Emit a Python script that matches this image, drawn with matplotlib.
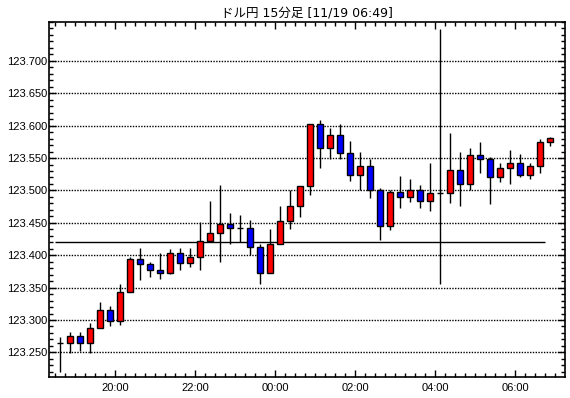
import matplotlib
matplotlib.use('Agg')
import matplotlib.pyplot as plt
from matplotlib.ticker import MultipleLocator, FixedLocator

plt.rcParams['font.family'] = ['Liberation Sans', 'Noto Sans CJK JP', 'DejaVu Sans']

# 15 minute bars, first bar opens at 18:30
first_bar = '18:30'
opens = [123.264, 123.265, 123.275, 123.264, 123.287, 123.315, 123.298, 123.343, 123.394, 123.386,
         123.377, 123.372, 123.403, 123.388, 123.397, 123.422, 123.434, 123.448, 123.442, 123.442,
         123.413, 123.372, 123.417, 123.453, 123.476, 123.507, 123.603, 123.565, 123.585, 123.558,
         123.524, 123.538, 123.501, 123.445, 123.498, 123.490, 123.501, 123.484, 123.496, 123.496,
         123.531, 123.510, 123.555, 123.548, 123.521, 123.534, 123.543, 123.524, 123.538, 123.575]
closes = [123.264, 123.275, 123.264, 123.287, 123.315, 123.298, 123.343, 123.394, 123.386, 123.377,
          123.372, 123.403, 123.388, 123.397, 123.422, 123.434, 123.448, 123.442, 123.442, 123.413,
          123.372, 123.417, 123.453, 123.476, 123.507, 123.602, 123.565, 123.585, 123.558, 123.524,
          123.538, 123.501, 123.445, 123.498, 123.490, 123.501, 123.484, 123.496, 123.496, 123.531,
          123.510, 123.555, 123.548, 123.521, 123.534, 123.543, 123.524, 123.538, 123.575, 123.581]
highs = [123.274, 123.281, 123.281, 123.295, 123.328, 123.321, 123.356, 123.398, 123.411, 123.389,
         123.403, 123.410, 123.411, 123.411, 123.451, 123.484, 123.508, 123.465, 123.462, 123.455,
         123.417, 123.441, 123.476, 123.500, 123.507, 123.602, 123.608, 123.596, 123.602, 123.576,
         123.560, 123.549, 123.504, 123.501, 123.523, 123.518, 123.509, 123.543, 123.749, 123.589,
         123.560, 123.566, 123.574, 123.551, 123.543, 123.563, 123.557, 123.543, 123.579, 123.583]
lows = [123.220, 123.249, 123.252, 123.249, 123.287, 123.290, 123.293, 123.343, 123.361, 123.366,
        123.364, 123.371, 123.377, 123.382, 123.377, 123.422, 123.389, 123.417, 123.420, 123.400,
        123.355, 123.372, 123.417, 123.441, 123.459, 123.493, 123.535, 123.549, 123.548, 123.515,
        123.500, 123.489, 123.424, 123.439, 123.473, 123.482, 123.473, 123.469, 123.356, 123.481,
        123.476, 123.500, 123.527, 123.479, 123.513, 123.510, 123.521, 123.517, 123.527, 123.568]

ref_level = 123.42
tick_labels = ['20:00', '22:00', '00:00', '02:00', '04:00', '06:00']
title = 'ドル円 15分足 [11/19 06:49]'


def bars_since_start(hhmm):
    h0, m0 = map(int, first_bar.split(':'))
    h, m = map(int, hhmm.split(':'))
    minutes = (h * 60 + m) - (h0 * 60 + m0)
    if minutes < 0:
        minutes += 24 * 60
    return minutes / 15


fig = plt.figure(figsize=(5.7, 3.98), dpi=100)
ax = fig.add_axes([49 / 570, 1 - 377 / 398, 516 / 570, 355 / 398])

n = len(opens)
xs = [i + 0.5 for i in range(n)]

# wicks
ax.vlines(xs, lows, highs, color='black', linewidth=1.0, zorder=3)

# bodies (red up, blue down, black doji)
body_colors = []
for o, c in zip(opens, closes):
    if c > o:
        body_colors.append('#ff0000')
    elif c < o:
        body_colors.append('#0000ff')
    else:
        body_colors.append('black')
bottoms = [min(o, c) for o, c in zip(opens, closes)]
heights = [abs(c - o) for o, c in zip(opens, closes)]
ax.bar(xs, heights, width=0.6, bottom=bottoms, color=body_colors,
       edgecolor='black', linewidth=1.0, zorder=4)

# reference level
ax.hlines(ref_level, 0, n - 1, color='black', linewidth=1.0, zorder=2)

ax.set_xlim(-0.6, 50.97)
ax.set_ylim(123.212, 123.760)

ax.yaxis.set_major_locator(FixedLocator([123.25 + 0.05 * k for k in range(10)]))
ax.yaxis.set_minor_locator(MultipleLocator(0.01))
ax.yaxis.set_major_formatter(plt.FuncFormatter(lambda v, p: '%.3f' % v))
ax.xaxis.set_major_locator(FixedLocator([bars_since_start(t) for t in tick_labels]))
ax.xaxis.set_major_formatter(plt.FixedFormatter(tick_labels))
ax.xaxis.set_minor_locator(MultipleLocator(1))

ax.grid(axis='y', which='major', color='black', linestyle=(0, (1, 1)), linewidth=1.0, zorder=1)

ax.tick_params(axis='both', which='both', direction='in', top=True, right=True,
               color='black', width=1.0, labelsize=8)
ax.tick_params(axis='both', which='major', length=5, pad=2)
ax.tick_params(axis='both', which='minor', length=3)
ax.tick_params(axis='y', which='major', pad=1)
ax.tick_params(axis='x', which='major', pad=4)

for s in ax.spines.values():
    s.set_linewidth(1.2)

fig.text(307 / 570, 1 - 13 / 398, title, ha='center', va='center', fontsize=9,
         family=['DejaVu Sans', 'Noto Sans CJK JP'])

fig.savefig('out.png', dpi=100)
